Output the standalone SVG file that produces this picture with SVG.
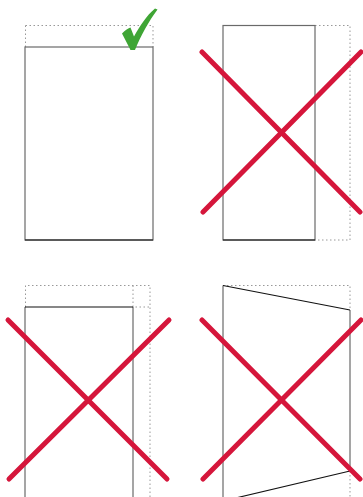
<svg xmlns="http://www.w3.org/2000/svg" width="363" height="497" viewBox="0 0 363 497">
<style>
.dot{fill:none;stroke:#999;stroke-width:1;stroke-dasharray:1.5,2.5}
.box{fill:none;stroke:#6a6a6a;stroke-width:1.2}
.blk{fill:none;stroke:#111;stroke-width:1.1}
.x{stroke:#d5163b;stroke-width:5;stroke-linecap:round}
</style>
<rect width="363" height="497" fill="#fff"/>
<g id="panel1">
<path class="dot" d="M25.5,25.5 H153 V47"/>
<path class="dot" d="M25.5,25.5 V47"/>
<rect class="box" x="25" y="47" width="128" height="193"/>
<path class="blk" d="M25,240 H153"/>
<path fill="#3fa535" d="M122,33.5 C125,30 128.5,28.5 130.5,27.5 L134,36.5 C140,26 146,16 155,8.5 L157.5,9.5 C149,21 141,35 135,50 L130.5,50 Z"/>
</g>
<g id="panel2">
<path class="dot" d="M315,25.5 H350 V240 H315"/>
<rect class="box" x="223" y="25.5" width="92" height="214.5"/>
<path class="blk" d="M223,240 H315"/>
<line class="x" x1="202" y1="52" x2="360" y2="212"/>
<line class="x" x1="203" y1="212" x2="361" y2="52"/>
</g>
<g id="panel3">
<path class="dot" d="M25.5,307 V285.5 H150 V497"/>
<path class="dot" d="M133,285.5 V307 H150"/>
<path class="box" d="M25,497 V307 M133,307 V497"/>
<path class="blk" d="M25,307 H133"/>
<line class="x" x1="8" y1="320" x2="167" y2="479"/>
<line class="x" x1="9" y1="479" x2="169" y2="320"/>
</g>
<g id="panel4">
<path class="dot" d="M223,285.5 H350 V310"/>
<path class="dot" d="M350,471 V497"/>
<path class="box" d="M223,285.5 V497 M350,310 V471"/>
<path class="blk" d="M223,285.5 L350,310 M350,471 L223,501"/>
<line class="x" x1="202" y1="320" x2="360" y2="479"/>
<line class="x" x1="203" y1="479" x2="361" y2="320"/>
</g>
</svg>
